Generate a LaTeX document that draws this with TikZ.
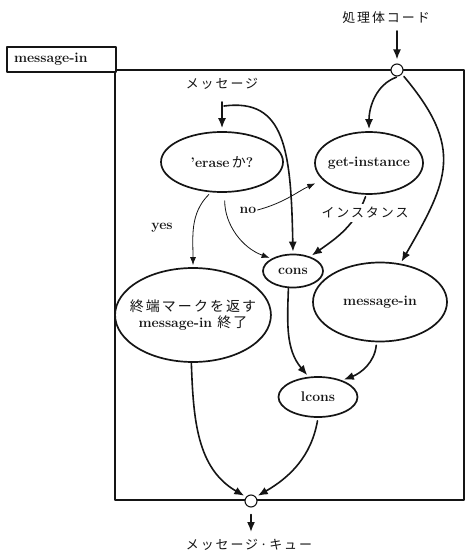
\documentclass[tikz,border=0pt]{standalone}
\usepackage{fontspec}
\usetikzlibrary{arrows.meta,shapes.geometric}
\newfontfamily\jpfont[LetterSpace=15]{Noto Sans CJK JP}
\definecolor{mqInk}{HTML}{151515}
\tikzset{
 chart/.style={x=1bp,y=1bp,line cap=round,line join=round,text=mqInk,
   font=\fontsize{14}{16}\selectfont\bfseries},
 proc/.style={ellipse,draw=mqInk,fill=white,line width=1.7bp,inner xsep=-8bp,inner ysep=0pt},
 port/.style={circle,draw=mqInk,fill=white,line width=1.1bp,inner sep=0pt,minimum size=12bp},
 frameline/.style={draw=mqInk,line width=2bp},
 titlebox/.style={rectangle,draw=mqInk,fill=white,line width=2bp,anchor=north west,
   minimum width=109bp,minimum height=25bp,text width=95bp,align=left,inner xsep=7bp},
 flow/.style={draw=mqInk,line width=1.6bp,shorten >=2bp,-{Latex[length=10bp,width=8bp]}},
 thinflow/.style={draw=mqInk,line width=.8bp,shorten >=2bp,-{Latex[length=8bp,width=6bp]}},
 jlabel/.style={font=\fontsize{13}{15}\selectfont\jpfont,inner sep=1bp},
 blabel/.style={inner sep=1bp}
}

\begin{document}
\begin{tikzpicture}[chart]
 \useasboundingbox (0,0) rectangle (467,-554);
 \draw[frameline] (115,-70) rectangle (464,-500);
 \node[titlebox] (title) at (6,-46) {message-in};
 \node[port] (inport) at (397,-70) {};
 \node[port] (outport) at (251,-501) {};
 \node[proc,minimum width=122bp,minimum height=60bp] (erase) at (222,-162) {'erase\,{\mdseries\jpfont か}?};
 \node[proc,minimum width=108bp,minimum height=62bp] (getinst) at (369,-163) {get-instance};
 \node[proc,minimum width=60bp,minimum height=33bp] (cons) at (293,-271) {cons};
 \node[proc,minimum width=150bp,minimum height=94bp,align=center] (termell) at (193,-315)
   {{\mdseries\jpfont 終端マークを返す}\\message-in {\mdseries\jpfont 終了}};
 \node[proc,minimum width=134bp,minimum height=79bp] (msgin) at (380,-302) {message-in};
 \node[proc,minimum width=79bp,minimum height=40bp] (lcons) at (318,-397) {lcons};
 \node[jlabel] (codelbl) at (386,-18) {処理体コード};
 \node[jlabel] (msglbl) at (222,-84) {メッセージ};
 \node[jlabel] (queuelbl) at (249,-545) {メッセージ·キュー};
 \node[blabel] (yeslbl) at (162,-228) {yes};
 \node[blabel] (nolbl) at (248,-210) {no};
 \coordinate (codetail) at (397,-31);
 \coordinate (msgtail) at (222,-102);
 \coordinate (msgsplit) at (224,-106);
 \coordinate (queuehead) at (251,-534);
 \draw[flow,shorten >=4bp] (codetail) -- (inport.north);
 \draw[flow,shorten >=3bp] (msgtail) -- (erase.north);
 \draw[flow,shorten <=7bp] (outport.south) -- (queuehead);
 \draw[flow] (msgsplit) .. controls (285,-98) and (291,-150) .. (cons.north);
 \draw[flow,shorten <=3bp] (inport.-70) to[out=200,in=90] (getinst.north);
 \draw[flow,shorten <=3bp] (inport.-40) to[out=-50,in=60,looseness=1.3] (msgin.62);
 \draw[thinflow,shorten <=3bp] (erase.250) to[out=225,in=90] (termell.north);
 \draw[thinflow,shorten <=8bp] (erase.275) to[out=-90,in=160] (cons.150);
 \draw[thinflow,shorten >=8bp] (nolbl.east) to[out=15,in=205] (getinst.200);
 \draw[flow,shorten <=2bp] (getinst.265) to[out=250,in=35] (cons.40);
 \node[jlabel,fill=white,inner sep=3bp] (instlbl) at (365,-213) {インスタンス};
 \draw[flow] (cons.255) to[out=268,in=130] (lcons.115);
 \draw[flow,shorten <=3bp] (msgin.265) to[out=-95,in=20] (lcons.35);
 \draw[flow] (termell.268) to[out=-88,in=150] (outport.140);
 \draw[flow,shorten <=3bp] (lcons.south) to[out=-100,in=30] (outport.40);
\end{tikzpicture}
\end{document}
